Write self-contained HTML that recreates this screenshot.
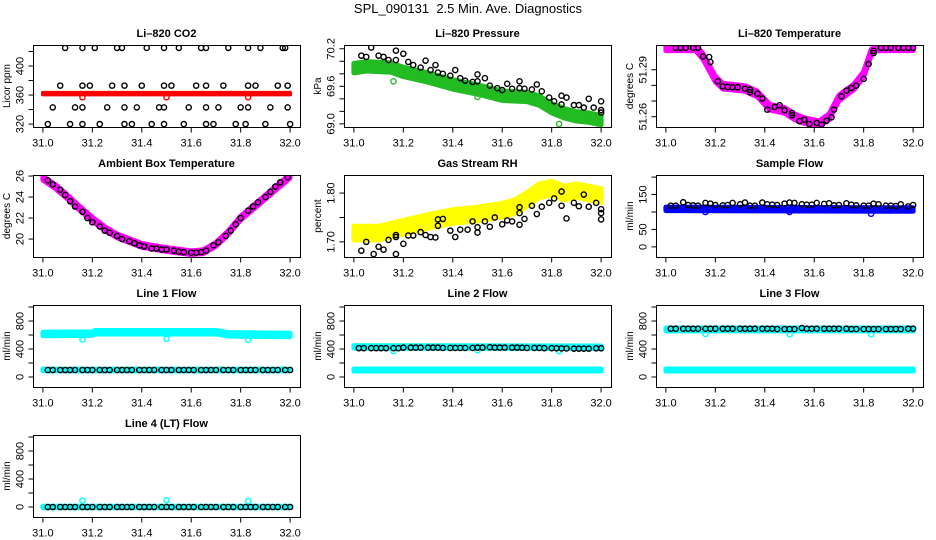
<!DOCTYPE html>
<html><head><meta charset="utf-8"><style>
html,body{margin:0;padding:0;background:#fff;}
svg{display:block;font-family:"Liberation Sans",Arial,sans-serif;}
</style></head><body>
<svg id="chart" width="936" height="540" viewBox="0 0 936 540" xmlns="http://www.w3.org/2000/svg">
<text x="468" y="13" text-anchor="middle" font-size="13" xml:space="preserve">SPL_090131  2.5 Min. Ave. Diagnostics</text>
</svg>
<script>
// ---------- data ----------
const xTicks = [31.0, 31.2, 31.4, 31.6, 31.8, 32.0];
const flowT = [31.02,31.04,31.07,31.09,31.11,31.13,31.16,31.18,31.20,31.23,31.25,31.27,31.30,31.32,31.34,31.36,31.39,31.41,31.43,31.45,31.48,31.50,31.52,31.55,31.57,31.59,31.61,31.64,31.66,31.68,31.70,31.73,31.75,31.77,31.80,31.82,31.84,31.86,31.89,31.91,31.93,31.95,31.98,32.0];
const outlierT = [31.16, 31.5, 31.83];

// CO2
const co2BandX = [31.0, 32.0];
const co2BandY = [362, 362];
const co2OutY = [357, 357, 357];
const co2BlackX = [31.09,31.16,31.21,31.30,31.32,31.42,31.49,31.55,31.64,31.66,31.75,31.83,31.88,31.97,31.98,
 31.07,31.16,31.19,31.28,31.33,31.40,31.49,31.52,31.62,31.66,31.73,31.83,31.86,31.95,31.99,
 31.04,31.13,31.16,31.26,31.33,31.38,31.47,31.49,31.59,31.66,31.71,31.80,31.83,31.92,31.99,
 31.02,31.11,31.16,31.23,31.33,31.36,31.44,31.49,31.57,31.66,31.69,31.78,31.82,31.90,32.00];
const co2BlackY = [425,425,425,425,425,425,425,425,425,425,425,425,425,425,425,
 373,373,373,373,373,373,373,373,373,373,373,373,373,373,373,
 343,343,343,343,343,343,343,343,343,343,343,343,343,343,343,
 320,320,320,320,320,320,320,320,320,320,320,320,320,320,320];

// Pressure
const presBandX = [31.0,31.05,31.15,31.2,31.3,31.4,31.5,31.6,31.7,31.75,31.8,31.85,31.9,31.95,32.0];
const presBandY = [69.89,69.92,69.90,69.83,69.74,69.63,69.55,69.45,69.43,69.37,69.25,69.17,69.12,69.10,69.06];
const presOutY = [69.68, 69.43, 69.0];
const presBlackX = [31.03,31.05,31.07,31.10,31.12,31.14,31.17,31.17,31.20,31.22,31.24,31.27,31.29,31.31,31.33,31.34,31.36,31.39,31.41,31.43,31.45,31.48,31.50,31.50,31.53,31.55,31.58,31.60,31.62,31.64,31.67,31.67,31.69,31.72,31.74,31.76,31.79,31.81,31.84,31.84,31.86,31.89,31.91,31.93,31.95,31.97,32.0,32.0,32.0];
const presBlackY = [70.09,70.07,70.22,70.09,70.07,70.02,70.02,70.17,70.12,69.99,69.94,69.90,70.01,69.86,69.94,69.82,69.80,69.77,69.86,69.73,69.69,69.67,69.79,69.68,69.73,69.61,69.57,69.54,69.64,69.56,69.68,69.57,69.56,69.55,69.63,69.52,69.42,69.36,69.45,69.31,69.42,69.30,69.30,69.26,69.40,69.26,69.36,69.22,69.18];

// Li-820 temperature
const ltBandX = [31.0,31.12,31.15,31.2,31.23,31.32,31.37,31.42,31.48,31.52,31.56,31.62,31.66,31.70,31.76,31.80,31.83,31.85,32.0];
const ltBandY = [51.304,51.304,51.2985,51.284,51.2795,51.278,51.2745,51.266,51.264,51.260,51.2575,51.2555,51.260,51.272,51.279,51.287,51.301,51.304,51.304];
const ltBlackX = [31.04,31.06,31.08,31.11,31.13,31.15,31.175,31.18,31.21,31.23,31.25,31.27,31.29,31.32,31.34,31.34,31.37,31.39,31.41,31.44,31.46,31.48,31.51,31.51,31.54,31.56,31.58,31.61,31.63,31.65,31.67,31.68,31.71,31.73,31.75,31.77,31.80,31.82,31.84,31.84,31.87,31.89,31.91,31.94,31.96,31.98,32.0];
const ltBlackY = [51.304,51.304,51.304,51.304,51.304,51.2985,51.2981,51.2949,51.2826,51.2794,51.2790,51.2788,51.2788,51.2779,51.2773,51.2756,51.2747,51.2716,51.2645,51.2662,51.2673,51.2641,51.2624,51.2609,51.2571,51.2581,51.2553,51.2560,51.2549,51.2574,51.2596,51.2645,51.2730,51.2766,51.2783,51.2798,51.2841,51.2936,51.3006,51.3021,51.304,51.304,51.304,51.304,51.304,51.304,51.304];

// Ambient box temperature
const ambBandX = [31.0,31.05,31.1,31.15,31.2,31.25,31.3,31.4,31.5,31.6,31.65,31.7,31.75,31.8,31.85,31.9,31.95,32.0];
const ambBandY = [25.8,25.0,24.0,22.9,21.9,21.0,20.3,19.4,19.0,18.7,18.8,19.5,20.6,22.0,23.0,24.0,25.0,26.0];
const ambBlackX = [31.02,31.04,31.07,31.09,31.11,31.13,31.16,31.18,31.20,31.23,31.25,31.27,31.30,31.32,31.35,31.37,31.39,31.41,31.44,31.46,31.48,31.50,31.53,31.55,31.57,31.60,31.62,31.64,31.66,31.69,31.71,31.74,31.76,31.78,31.80,31.83,31.85,31.87,31.90,31.92,31.94,31.96,31.99];
const ambBlackY = [25.6,25.2,24.7,24.2,23.6,23.1,22.6,22.0,21.6,21.2,20.8,20.6,20.3,20.0,19.8,19.6,19.4,19.3,19.1,19.1,19.0,19.0,18.9,18.8,18.75,18.7,18.7,18.75,18.9,19.4,19.7,20.3,20.8,21.4,22.0,22.7,23.1,23.5,24.0,24.5,25.0,25.4,25.9];

// Gas stream RH
const rhBandX = [31.0,31.1,31.2,31.3,31.4,31.5,31.6,31.65,31.7,31.75,31.8,31.85,31.9,31.95,32.0];
const rhBandY = [1.718,1.718,1.730,1.742,1.752,1.757,1.765,1.772,1.787,1.805,1.810,1.800,1.805,1.800,1.795];
const rhBlackX = [31.03,31.05,31.08,31.10,31.12,31.14,31.17,31.17,31.17,31.20,31.22,31.24,31.27,31.29,31.31,31.33,31.34,31.34,31.36,31.39,31.41,31.43,31.46,31.48,31.50,31.50,31.53,31.55,31.57,31.60,31.62,31.64,31.67,31.67,31.67,31.69,31.72,31.74,31.76,31.79,31.81,31.84,31.84,31.86,31.89,31.91,31.93,31.95,31.98,32.0,32.0,32.0];
const rhBlackY = [1.682,1.700,1.675,1.690,1.684,1.704,1.710,1.714,1.675,1.696,1.713,1.713,1.720,1.714,1.710,1.709,1.733,1.746,1.747,1.723,1.710,1.725,1.725,1.742,1.730,1.719,1.742,1.731,1.750,1.736,1.744,1.742,1.735,1.759,1.771,1.747,1.774,1.757,1.772,1.780,1.789,1.803,1.774,1.748,1.780,1.773,1.797,1.772,1.780,1.767,1.746,1.759];

// Sample flow
const sfBandX = [31.0, 32.0];
const sfBandY = [109, 107];
const sfOutY = [100, 100, 95];
const sfBlackY = [118,118,128,120,119,118,126,124,120,119,120,126,122,127,118,118,127,122,121,120,124,127,126,122,121,121,126,123,125,119,120,125,121,119,118,118,124,122,118,118,117,122,116,120];

// Line flows
const l1HiX = [31.0,31.2,31.21,31.7,31.75,32.0];
const l1HiY = [615,620,640,640,610,600];
const l1LoX = [31.0,32.0];
const l1LoY = [100,100];
const l1OutY = [535,545,530];
const l1BlackY = [100,100,100,100,100,100,100,100,100,100,100,100,100,100,100,100,100,100,100,100,100,100,100,100,100,100,100,100,100,100,100,100,100,100,100,100,100,100,100,100,100,100,100,100];
const l2HiX = [31.0,32.0];
const l2HiY = [430,425];
const l2LoX = [31.0,32.0];
const l2LoY = [100,100];
const l2OutY = [370,380,370];
const l2BlackY = [412,412,412,412,412,412,412,412,420,420,420,420,420,420,420,415,415,415,415,415,415,420,420,425,420,420,420,420,420,418,415,415,415,412,412,410,408,408,405,405,405,405,410,410];
const l3HiX = [31.0,32.0];
const l3HiY = [680,680];
const l3LoX = [31.0,32.0];
const l3LoY = [100,100];
const l3OutY = [615,610,610];
const l3BlackY = [690,690,690,690,690,690,690,690,690,690,690,690,690,690,690,690,690,690,690,685,685,685,685,700,690,690,690,690,690,690,690,690,685,685,685,685,685,685,685,685,685,685,690,690];
const l4LoX = [31.0,32.0];
const l4LoY = [0,0];
const l4OutY = [90,95,85];
const l4BlackY = [0,0,0,0,0,0,0,0,0,0,0,0,0,0,0,0,0,0,0,0,0,0,0,0,0,0,0,0,0,0,0,0,0,0,0,0,0,0,0,0,0,0,0,0];

const flowTicks = [0,200,400,600,800,1000];
const flowLabels = ["0","","400","","800",""];

// ---------- drawing ----------
const NS = "http://www.w3.org/2000/svg";
const svg = document.getElementById("chart");
const colX = [33, 344, 656], rowY = [45, 175, 305, 435], PW = 267, PH = 82;
const XMIN = 30.96, XMAX = 32.04;

function mk(tag, attrs, parent) {
  const e = document.createElementNS(NS, tag);
  for (const k in attrs) e.setAttribute(k, attrs[k]);
  (parent || svg).appendChild(e);
  return e;
}

function drawPanel(p) {
  const x0 = colX[p.col], y0 = rowY[p.row];
  const g = mk("g", {});
  
  
  const sx = v => x0 + (v - XMIN) / (XMAX - XMIN) * PW;
  const sy = v => y0 + PH - (v - p.ymin) / (p.ymax - p.ymin) * PH;

  const t = mk("text", {x: x0 + PW / 2, y: y0 - 8, "text-anchor": "middle", "font-size": 11, "font-weight": "bold"}, g);
  t.textContent = p.title;
  
  

  const clip = mk("clipPath", {id: "c" + p.name}, g);
  mk("rect", {x: x0, y: y0, width: PW, height: PH}, clip);
  const pg = mk("g", {"clip-path": "url(#c" + p.name + ")"}, g);

  (p.bands || []).forEach((b, bi) => {
    const up = b.x.map((v, i) => sx(v) + "," + sy(b.y[i] + b.h));
    const lo = b.x.map((v, i) => sx(v) + "," + sy(b.y[i] - b.h)).reverse();
    const poly = mk("polygon", {points: up.concat(lo).join(" "), fill: b.c, stroke: b.c, "stroke-width": b.sw || 5, "stroke-linejoin": "round"}, pg);
    
    
  });
  (p.outs || []).forEach(o => {
    o.x.forEach((v, i) => {
      const c = mk("circle", {cx: sx(v), cy: sy(o.y[i]), r: 2.6, fill: "none", stroke: o.c, "stroke-width": 1.4}, pg);
      
      
    });
  });
  (p.pts || []).forEach(s => {
    s.x.forEach((v, i) => {
      const c = mk("circle", {cx: sx(v), cy: sy(s.y[i]), r: 2.6, fill: "none", stroke: "#000", "stroke-width": 1.4}, pg);
      
      
    });
  });

  const box = mk("rect", {x: x0 + 0.5, y: y0 + 0.5, width: PW, height: PH, fill: "none", stroke: "#000", "stroke-width": 1}, g);
  
  

  const by = y0 + PH + 0.5;
  const xa = mk("g", {}, g);
  
  
  mk("line", {x1: sx(xTicks[0]), x2: sx(xTicks[xTicks.length - 1]), y1: by, y2: by, stroke: "#000"}, xa);
  xTicks.forEach(v => {
    mk("line", {x1: sx(v), x2: sx(v), y1: by, y2: by + 5, stroke: "#000"}, xa);
    const tl = mk("text", {x: sx(v), y: by + 19, "text-anchor": "middle", "font-size": 11}, xa);
    tl.textContent = v.toFixed(1);
  });
  const bx = x0 + 0.5;
  const ya = mk("g", {}, g);
  
  
  mk("line", {x1: bx, x2: bx, y1: sy(p.yt[0]), y2: sy(p.yt[p.yt.length - 1]), stroke: "#000"}, ya);
  p.yt.forEach((v, i) => {
    mk("line", {x1: bx, x2: bx - 5, y1: sy(v), y2: sy(v), stroke: "#000"}, ya);
    if (p.yl[i]) {
      const yy = sy(v);
      const tl = mk("text", {x: bx - 10, y: yy, "text-anchor": "middle", "font-size": 11, transform: "rotate(-90 " + (bx - 10) + " " + yy + ")"}, ya);
      tl.textContent = p.yl[i];
    }
  });
  const cy = y0 + PH / 2, lx = x0 - 23;
  const yl = mk("text", {x: lx, y: cy, "text-anchor": "middle", "font-size": 10, transform: "rotate(-90 " + lx + " " + cy + ")"}, g);
  yl.textContent = p.ylab;
  
  
}

const CY = "#00ffff";
const panels = [
  {name: "co2", title: "Li\u2013820 CO2", ylab: "Licor ppm", col: 0, row: 0, ymin: 316, ymax: 429,
   yt: [320,340,360,380,400,420], yl: ["320","","360","","400",""],
   bands: [{x: co2BandX, y: co2BandY, h: 1, c: "#ff0000", sw: 4}],
   outs: [{x: outlierT, y: co2OutY, c: "#ff0000"}],
   pts: [{x: co2BlackX, y: co2BlackY}]},
  {name: "pressure", title: "Li\u2013820 Pressure", ylab: "kPa", col: 1, row: 0, ymin: 68.95, ymax: 70.26,
   yt: [69.0,69.2,69.4,69.6,69.8,70.0,70.2], yl: ["69.0","","","69.6","","","70.2"],
   bands: [{x: presBandX, y: presBandY, h: 0.075, c: "#22bb22"}],
   outs: [{x: outlierT, y: presOutY, c: "#22bb22"}],
   pts: [{x: presBlackX, y: presBlackY}]},
  {name: "li820-temp", title: "Li\u2013820 Temperature", ylab: "degrees C", col: 2, row: 0, ymin: 51.2534, ymax: 51.3058,
   yt: [51.26,51.27,51.28,51.29], yl: ["51.26","","","51.29"],
   bands: [{x: ltBandX, y: ltBandY, h: 0.0018, c: "#ff00ff"}],
   pts: [{x: ltBlackX, y: ltBlackY}]},
  {name: "ambient-temp", title: "Ambient Box Temperature", ylab: "degrees C", col: 0, row: 1, ymin: 18.29, ymax: 26.1,
   yt: [20,22,24,26], yl: ["20","22","24","26"],
   bands: [{x: ambBandX, y: ambBandY, h: 0.18, c: "#ff00ff"}],
   pts: [{x: ambBlackX, y: ambBlackY}]},
  {name: "gas-rh", title: "Gas Stream RH", ylab: "percent", col: 1, row: 1, ymin: 1.669, ymax: 1.837,
   yt: [1.70,1.75,1.80], yl: ["1.70","","1.80"],
   bands: [{x: rhBandX, y: rhBandY, h: 0.014, c: "#ffff00"}],
   pts: [{x: rhBlackX, y: rhBlackY}]},
  {name: "sample-flow", title: "Sample Flow", ylab: "ml/min", col: 2, row: 1, ymin: -29, ymax: 206,
   yt: [0,50,100,150,200], yl: ["0","50","","150",""],
   bands: [{x: sfBandX, y: sfBandY, h: 5, c: "#0000ff"}],
   outs: [{x: outlierT, y: sfOutY, c: "#0000ff"}],
   pts: [{x: flowT, y: sfBlackY}]},
  {name: "line1-flow", title: "Line 1 Flow", ylab: "ml/min", col: 0, row: 2, ymin: -143, ymax: 1029,
   yt: flowTicks, yl: flowLabels,
   bands: [{x: l1HiX, y: l1HiY, h: 25, c: CY}, {x: l1LoX, y: l1LoY, h: 12, c: CY}],
   outs: [{x: outlierT, y: l1OutY, c: CY}],
   pts: [{x: flowT, y: l1BlackY}]},
  {name: "line2-flow", title: "Line 2 Flow", ylab: "ml/min", col: 1, row: 2, ymin: -143, ymax: 1029,
   yt: flowTicks, yl: flowLabels,
   bands: [{x: l2HiX, y: l2HiY, h: 18, c: CY}, {x: l2LoX, y: l2LoY, h: 15, c: CY}],
   outs: [{x: outlierT, y: l2OutY, c: CY}],
   pts: [{x: flowT, y: l2BlackY}]},
  {name: "line3-flow", title: "Line 3 Flow", ylab: "ml/min", col: 2, row: 2, ymin: -143, ymax: 1029,
   yt: flowTicks, yl: flowLabels,
   bands: [{x: l3HiX, y: l3HiY, h: 20, c: CY}, {x: l3LoX, y: l3LoY, h: 15, c: CY}],
   outs: [{x: outlierT, y: l3OutY, c: CY}],
   pts: [{x: flowT, y: l3BlackY}]},
  {name: "line4-flow", title: "Line 4 (LT) Flow", ylab: "ml/min", col: 0, row: 3, ymin: -143, ymax: 1029,
   yt: flowTicks, yl: flowLabels,
   bands: [{x: l4LoX, y: l4LoY, h: 10, c: CY}],
   outs: [{x: outlierT, y: l4OutY, c: CY}],
   pts: [{x: flowT, y: l4BlackY}]}
];
panels.forEach(drawPanel);
</script>
</body></html>
